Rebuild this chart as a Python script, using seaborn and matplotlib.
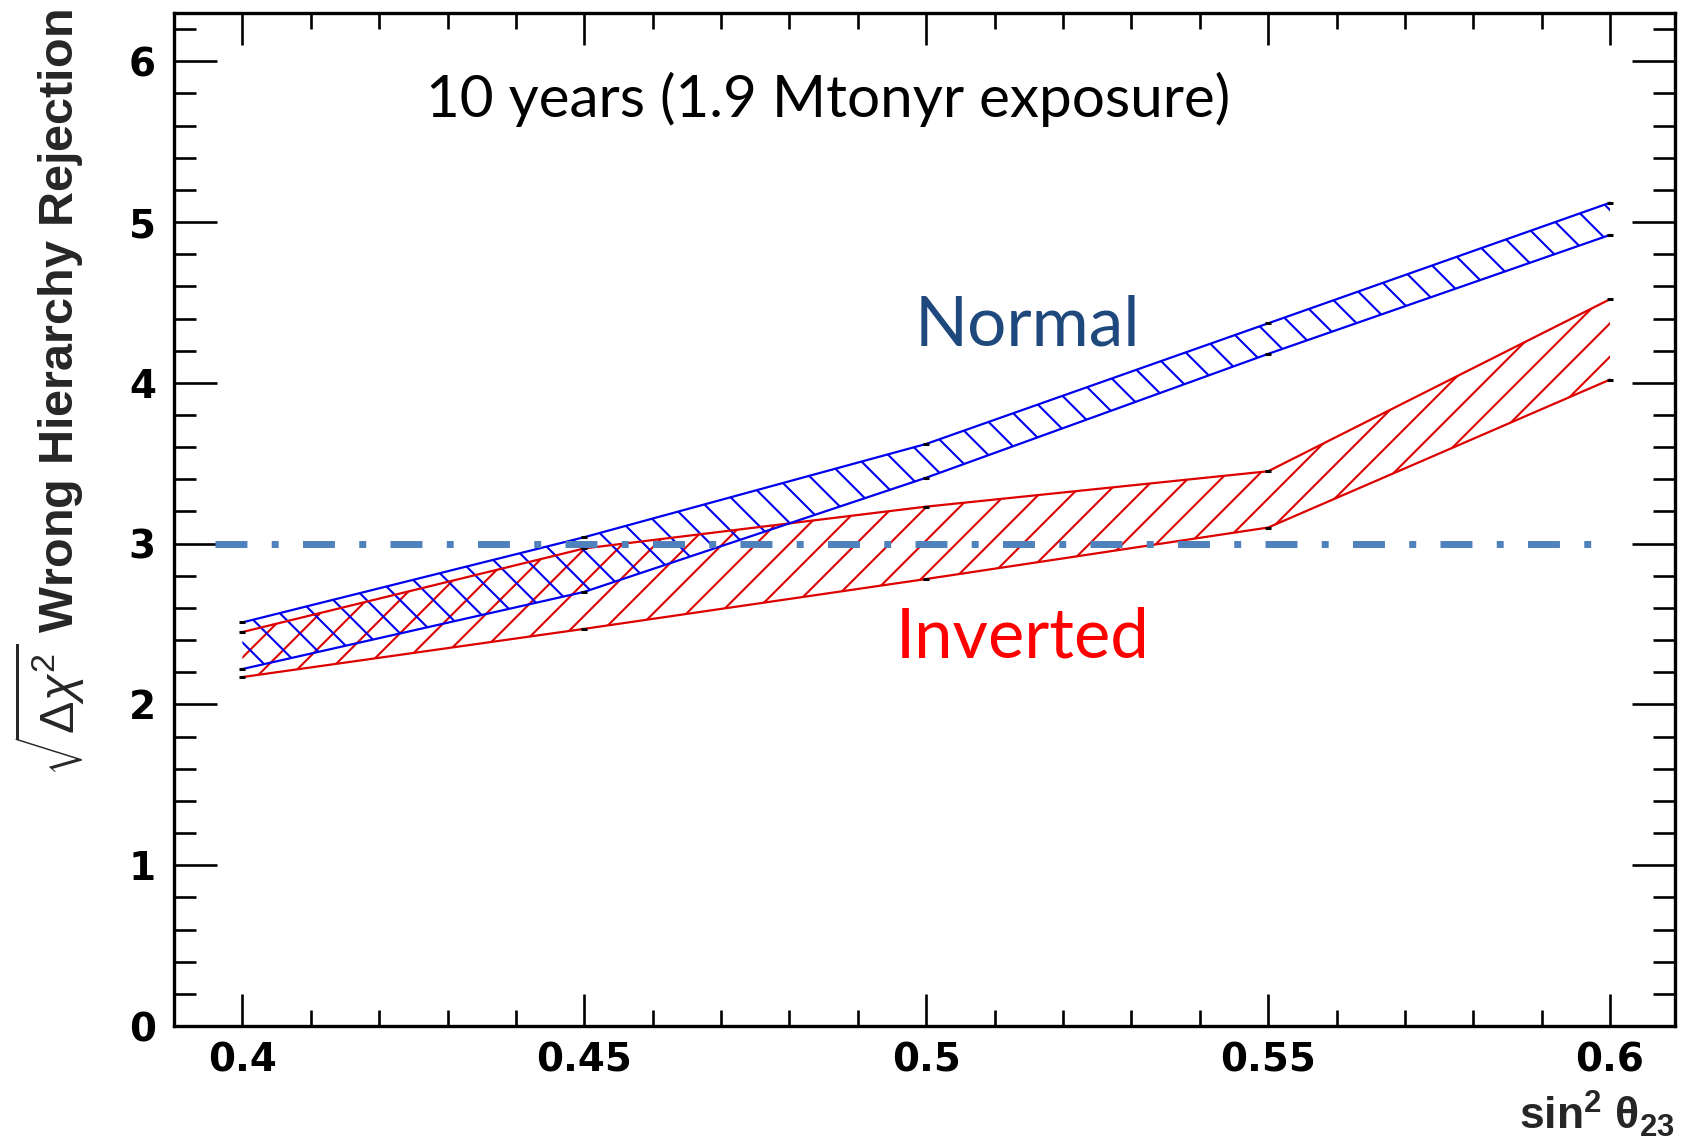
import numpy as np
import pandas as pd
import matplotlib
matplotlib.use("Agg")
import matplotlib.pyplot as plt
import seaborn as sns
from matplotlib.ticker import MultipleLocator, FixedLocator

# ---------------- data ----------------
sin2_theta23 = [0.40, 0.45, 0.50, 0.55, 0.60]
normal_upper = [2.51, 3.04, 3.62, 4.37, 5.12]
normal_lower = [2.22, 2.70, 3.41, 4.18, 4.92]
inverted_upper = [2.45, 2.97, 3.23, 3.45, 4.52]
inverted_lower = [2.17, 2.47, 2.78, 3.10, 4.02]

threshold_x = [0.396, 0.599]
threshold_y = [3.0, 3.0]

x_ticks = [0.40, 0.45, 0.50, 0.55, 0.60]
x_tick_labels = ["0.4", "0.45", "0.5", "0.55", "0.6"]
y_ticks = [0, 1, 2, 3, 4, 5, 6]
y_tick_labels = ["0", "1", "2", "3", "4", "5", "6"]

title_text = "10 years (1.9 Mtonyr exposure)"
normal_label = "Normal"
inverted_label = "Inverted"
x_label = r"$\mathbf{sin^{2}\ \theta_{23}}$"
y_label = r"$\sqrt{\Delta\chi^{2}}$ Wrong Hierarchy Rejection"

df = pd.DataFrame({
    "sin2": sin2_theta23,
    "normal_upper": normal_upper,
    "normal_lower": normal_lower,
    "inverted_upper": inverted_upper,
    "inverted_lower": inverted_lower,
})
df_thr = pd.DataFrame({"x": threshold_x, "y": threshold_y})

# ---------------- style ----------------
sns.set_style("white")
plt.rcParams["hatch.linewidth"] = 1.5
plt.rcParams["mathtext.fontset"] = "custom"
plt.rcParams["mathtext.rm"] = "Liberation Sans"
plt.rcParams["mathtext.bf"] = "Liberation Sans:bold"
plt.rcParams["mathtext.it"] = "Liberation Sans:italic"
plt.rcParams["mathtext.sf"] = "Liberation Sans"

RED = "#DD0000"
BLUE = "#0000EE"
THR = "#4F81BD"

fig = plt.figure(figsize=(16.82, 11.40), dpi=100)
fig.patch.set_facecolor("white")
ax = fig.add_axes([174 / 1682, 114 / 1140, 1501 / 1682, 1013 / 1140])
ax.set_facecolor("white")

# Inverted band (red hatch)
ax.fill_between(df["sin2"], df["inverted_lower"], df["inverted_upper"],
                facecolor="none", edgecolor=RED, hatch="/", linewidth=0, zorder=2)
sns.lineplot(data=df, x="sin2", y="inverted_upper", color=RED, lw=1.6, ax=ax, zorder=3)
sns.lineplot(data=df, x="sin2", y="inverted_lower", color=RED, lw=1.6, ax=ax, zorder=3)

# Normal band (blue hatch)
ax.fill_between(df["sin2"], df["normal_lower"], df["normal_upper"],
                facecolor="none", edgecolor=BLUE, hatch="\\", linewidth=0, zorder=2)
sns.lineplot(data=df, x="sin2", y="normal_upper", color=BLUE, lw=1.6, ax=ax, zorder=3)
sns.lineplot(data=df, x="sin2", y="normal_lower", color=BLUE, lw=1.6, ax=ax, zorder=3)

# small black vertex markers
for col in ["normal_upper", "normal_lower", "inverted_upper", "inverted_lower"]:
    ax.plot(df["sin2"], df[col], ls="none", marker="_", ms=4, mew=2.2,
            color="black", zorder=4)

# 3 sigma dash-dot line
sns.lineplot(data=df_thr, x="x", y="y", color=THR, lw=5.0, ax=ax, zorder=5,
             linestyle=(0, (4.6, 3.5, 1.0, 3.5)))

# ---------------- axes ----------------
ax.set_xlim(0.39, 0.6095)
ax.set_ylim(0, 6.3)
ax.xaxis.set_major_locator(FixedLocator(x_ticks))
ax.set_xticklabels(x_tick_labels)
ax.xaxis.set_minor_locator(MultipleLocator(0.01))
ax.yaxis.set_major_locator(FixedLocator(y_ticks))
ax.set_yticklabels(y_tick_labels)
ax.yaxis.set_minor_locator(MultipleLocator(0.2))

ax.tick_params(which="both", direction="in", top=True, right=True,
               bottom=True, left=True, width=1.9, colors="black")
ax.tick_params(axis="x", which="major", length=23, pad=11)
ax.tick_params(axis="x", which="minor", length=11.5)
ax.tick_params(axis="y", which="major", length=31, pad=13)
ax.tick_params(axis="y", which="minor", length=16)
for lab in ax.get_xticklabels() + ax.get_yticklabels():
    lab.set_fontfamily("DejaVu Sans")
    lab.set_fontweight("bold")
    lab.set_fontsize(28)

for sp in ax.spines.values():
    sp.set_visible(True)
    sp.set_linewidth(2.4)
    sp.set_color("black")

ax.set_xlabel(x_label, fontsize=32, loc="right")
ax.xaxis.set_label_coords(1.0, -0.062)
ax.set_ylabel(y_label, fontsize=35, fontweight="bold", family="Liberation Sans", loc="top")
ax.yaxis.set_label_coords(-0.058, 1.004)

# ---------------- annotations ----------------
ax.text(0.168, 0.8973, title_text, transform=ax.transAxes, family="Lato",
        fontsize=42, color="black", ha="left", va="baseline")
ax.text(0.4935, 0.6713, normal_label, transform=ax.transAxes, family="Lato",
        fontsize=50, color="#1F497D", ha="left", va="baseline")
ax.text(0.481, 0.3633, inverted_label, transform=ax.transAxes, family="Lato",
        fontsize=49.5, color="#FF0000", ha="left", va="baseline")

fig.savefig("out.png", dpi=100, facecolor="white")
